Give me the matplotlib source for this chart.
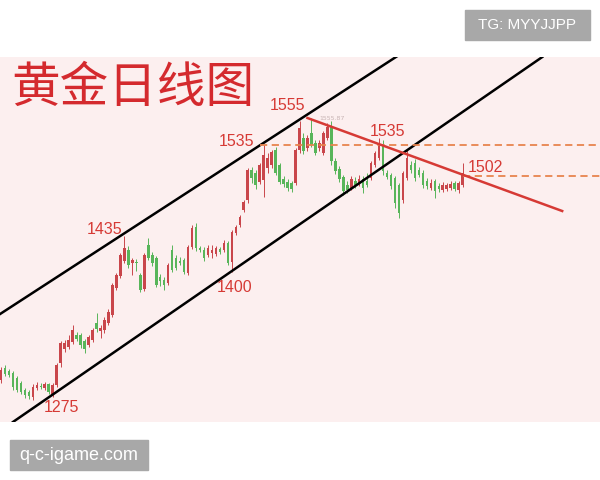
import matplotlib
matplotlib.use("Agg")
import numpy as np
import matplotlib.pyplot as plt
from matplotlib.patches import Rectangle

# daily gold candles (open, high, low, close)
opens = [1293, 1305, 1302, 1300, 1295, 1290, 1283, 1281, 1276, 1285,
         1287, 1285, 1289, 1278, 1288, 1310, 1324, 1326, 1331, 1338,
         1338, 1332, 1328, 1333, 1350, 1342, 1343, 1350, 1358, 1385,
         1397, 1412, 1423, 1410, 1411, 1398, 1384, 1428, 1418, 1415,
         1396, 1393, 1390, 1423, 1415, 1412, 1413, 1400, 1426, 1446,
         1425, 1423, 1418, 1420, 1419, 1424, 1423, 1430, 1411, 1440,
         1448, 1463, 1473, 1503, 1500, 1491, 1493, 1505, 1508, 1523,
         1508, 1494, 1491, 1490, 1490, 1523, 1535, 1525, 1540, 1530,
         1525, 1520, 1535, 1546, 1512, 1504, 1496, 1488, 1485, 1492,
         1490, 1494, 1492, 1495, 1508, 1515, 1528, 1500, 1498, 1495,
         1488, 1473, 1495, 1508, 1510, 1503, 1500, 1492, 1485, 1492,
         1487, 1483, 1484, 1485, 1490, 1483, 1488]
highs = [1306, 1308, 1304, 1302, 1297, 1292, 1285, 1283, 1289, 1291,
         1290, 1291, 1290, 1290, 1310, 1332, 1333, 1338, 1348, 1341,
         1340, 1334, 1338, 1345, 1360, 1348, 1356, 1364, 1390, 1400,
         1420, 1437, 1427, 1415, 1414, 1400, 1420, 1435, 1421, 1417,
         1399, 1396, 1410, 1428, 1418, 1416, 1415, 1428, 1448, 1450,
         1427, 1426, 1428, 1428, 1427, 1426, 1433, 1432, 1443, 1448,
         1458, 1473, 1505, 1506, 1503, 1510, 1528, 1520, 1523, 1526,
         1510, 1497, 1494, 1492, 1525, 1552, 1540, 1538, 1555, 1533,
         1533, 1542, 1550, 1552, 1515, 1507, 1498, 1492, 1497, 1496,
         1498, 1497, 1500, 1512, 1522, 1535, 1533, 1503, 1500, 1497,
         1490, 1502, 1523, 1512, 1514, 1506, 1503, 1495, 1494, 1494,
         1490, 1491, 1490, 1492, 1492, 1492, 1510]
lows = [1290, 1297, 1296, 1283, 1281, 1279, 1275, 1274, 1273, 1283,
        1284, 1283, 1279, 1276, 1286, 1306, 1321, 1324, 1329, 1332,
        1325, 1320, 1326, 1331, 1341, 1335, 1340, 1348, 1356, 1383,
        1395, 1410, 1405, 1398, 1402, 1381, 1382, 1413, 1407, 1386,
        1387, 1383, 1388, 1401, 1403, 1408, 1399, 1398, 1424, 1422,
        1421, 1412, 1416, 1415, 1417, 1419, 1421, 1408, 1401, 1438,
        1446, 1461, 1470, 1490, 1484, 1489, 1476, 1500, 1505, 1498,
        1489, 1486, 1482, 1481, 1488, 1520, 1519, 1522, 1526, 1518,
        1522, 1518, 1533, 1508, 1499, 1491, 1478, 1480, 1483, 1485,
        1487, 1480, 1486, 1493, 1506, 1513, 1498, 1494, 1484, 1465,
        1455, 1470, 1493, 1500, 1492, 1496, 1485, 1484, 1483, 1475,
        1481, 1481, 1482, 1483, 1482, 1480, 1486]
closes = [1303, 1299, 1298, 1286, 1283, 1281, 1278, 1277, 1286, 1288,
          1286, 1289, 1281, 1288, 1308, 1330, 1330, 1333, 1343, 1334,
          1328, 1324, 1336, 1343, 1344, 1345, 1353, 1361, 1388, 1398,
          1418, 1425, 1408, 1413, 1410, 1383, 1418, 1415, 1410, 1388,
          1392, 1388, 1408, 1403, 1405, 1410, 1401, 1426, 1445, 1425,
          1423, 1415, 1425, 1423, 1425, 1421, 1430, 1410, 1441, 1446,
          1456, 1471, 1503, 1495, 1488, 1508, 1518, 1515, 1521, 1500,
          1491, 1489, 1485, 1484, 1523, 1545, 1522, 1535, 1528, 1520,
          1530, 1540, 1546, 1512, 1502, 1494, 1482, 1483, 1494, 1488,
          1494, 1485, 1488, 1510, 1520, 1530, 1502, 1496, 1487, 1470,
          1460, 1500, 1515, 1503, 1495, 1498, 1488, 1487, 1490, 1482,
          1484, 1488, 1488, 1489, 1484, 1490, 1500]

# analyst lines: (index, price) end points
upper_channel = ([-1, 100], [1357, 1618])
lower_channel = ([3, 136], [1251, 1616])
down_trend = ([77, 141], [1555, 1462])
resist_1535 = 1528
resist_1502 = 1497
dash_starts = [65, 116]

# labels: text, anchor index, anchor price, pixel offset, alignment
labels = [("1555", 78, 1555, (-24, 13), "center"),
          ("1535", 65, 1528, (-5, 4), "right"),
          ("1535", 95, 1535, (8, 7), "center"),
          ("1502", 116, 1497, (5, 9), "left"),
          ("1435", 31, 1437, (-20, 6), "center"),
          ("1400", 58, 1401, (3, -15), "center"),
          ("1275", 8, 1273, (29, -7), "center")]

UP = "#c9464b"
DOWN = "#58b55a"
RED = "#d63a35"
BG = "#fcefef"

fig = plt.figure(figsize=(6, 4.8), dpi=100)
fig.patch.set_facecolor("white")
ax = fig.add_axes([0, 58 / 480, 1, 365 / 480])
ax.set_facecolor(BG)

spacing = 3.98
ax.set_xlim(-1 / spacing, 599 / spacing)
ax.set_ylim(1251, 1616)

idx = np.arange(len(opens))
o = np.array(opens); c = np.array(closes)
h = np.array(highs); l = np.array(lows)
colors = np.where(c >= o, UP, DOWN)
ax.vlines(idx, l, h, colors=colors, linewidth=0.7, zorder=2)
bottoms = np.minimum(o, c)
heights = np.maximum(np.abs(c - o), 1.0)
ax.bar(idx, heights, bottom=bottoms, width=0.65, color=colors,
       linewidth=0, zorder=3)

ax.plot(*upper_channel, color="black", lw=1.8, zorder=4)
ax.plot(*lower_channel, color="black", lw=1.8, zorder=4)
ax.plot(*down_trend, color=RED, lw=1.8, zorder=5)
ax.plot([dash_starts[0], 160], [resist_1535] * 2, color="#e8844e",
        lw=1.3, ls=(0, (4, 2.5)), zorder=4)
ax.plot([dash_starts[1], 160], [resist_1502] * 2, color="#e8844e",
        lw=1.3, ls=(0, (4, 2.5)), zorder=4)

for txt, i, p, off, ha in labels:
    ax.annotate(txt, (i, p), xytext=off, textcoords="offset pixels",
                ha=ha, va="center", color=RED, fontsize=11.5,
                family="Liberation Sans", zorder=6)
ax.annotate("1555.87", (78, 1555), xytext=(8, 0), textcoords="offset pixels",
            ha="left", va="center", color="#c8b4b4", fontsize=4.5)

ax.set_xticks([]); ax.set_yticks([])
for s in ax.spines.values():
    s.set_visible(False)

fig.text(133 / 600, 1 - 88 / 480, "黄金日线图", ha="center", va="center",
         color="#d42a2e", fontsize=35, family=["Noto Sans CJK SC", "DejaVu Sans"])

# watermark boxes
fig.patches.append(Rectangle((465 / 600, 1 - 40 / 480), 125 / 600, 30 / 480,
                             transform=fig.transFigure, color="#a8a8a8"))
fig.text(527 / 600, 1 - 25 / 480, "TG: MYYJJPP", ha="center", va="center",
         color="white", fontsize=11, family="Liberation Sans")
fig.patches.append(Rectangle((10 / 600, 1 - 470 / 480), 138 / 600, 30 / 480,
                             transform=fig.transFigure, color="#a8a8a8"))
fig.text(79 / 600, 1 - 455 / 480, "q-c-igame.com", ha="center", va="center",
         color="white", fontsize=13, family="Liberation Sans")

fig.savefig("out.png", dpi=100)
